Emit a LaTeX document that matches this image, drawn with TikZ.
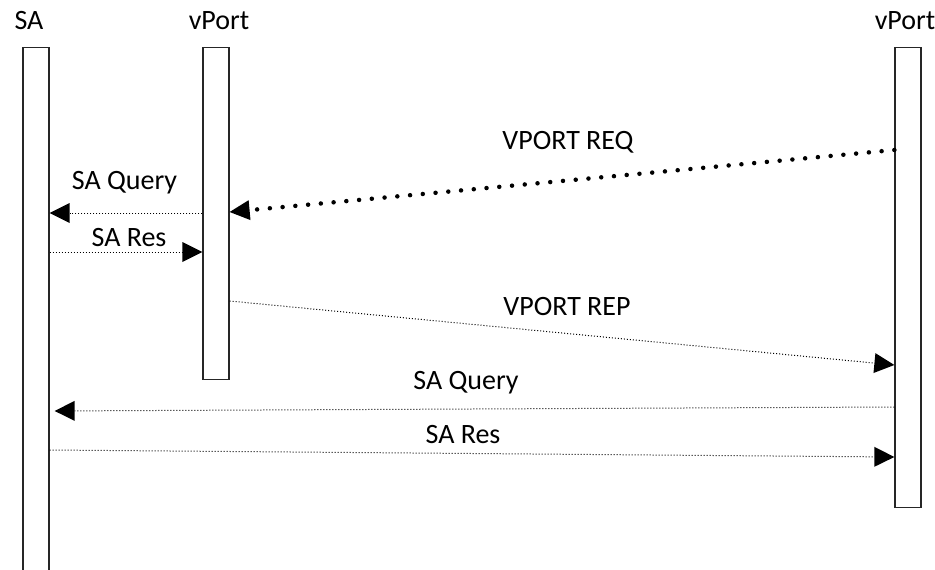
\documentclass[tikz,border=0pt]{standalone}
\usepackage{fontspec}
\setmainfont{Carlito}
\usetikzlibrary{arrows.meta}
\begin{document}
\begin{tikzpicture}[x=1pt,y=-1pt,
  lifebox/.style={draw=black!85, line width=1.3pt, fill=white, minimum width=26pt, anchor=north, inner sep=0pt},
  lbl/.style={font=\fontsize{28}{30}\selectfont, anchor=base, inner sep=0pt},
  tip/.style={-{Triangle[length=20pt,width=20pt,line width=0pt,fill=black,color=black]}},
  thin/.style={tip, line width=1pt, dash pattern=on 1pt off 2pt, draw=black},
  bigdots/.style={tip, line width=4.5pt, line cap=round, dash pattern=on 0pt off 12.8pt}]
\useasboundingbox (0,0) rectangle (935,570);
\clip (0,0) rectangle (935,570);
% lifelines
\node[lifebox, minimum height=540pt] (sa) at (36,47) {};
\node[lifebox, minimum height=332pt] (vp1) at (216,47) {};
\node[lifebox, minimum height=460pt] (vp2) at (908,47) {};
% headers
\node[lbl] (hsa) at (29,29.3) {SA};
\node[lbl] (hvp1) at (219,29.3) {vPort};
\node[lbl] (hvp2) at (905,29.3) {vPort};
% anchor points
\coordinate (reqS) at (vp2.west |- 0,150);
\coordinate (reqE) at (vp1.east |- 0,212);
\coordinate (q1S) at (vp1.west |- 0,213);
\coordinate (q1E) at (sa.east |- 0,213);
\coordinate (r1S) at (sa.east |- 0,252);
\coordinate (r1E) at (vp1.west |- 0,252);
\coordinate (repS) at (vp1.east |- 0,301);
\coordinate (repE) at (vp2.west |- 0,365);
\coordinate (q2S) at (vp2.west |- 0,407);
\coordinate (q2E) at (sa.east |- 0,411);
\coordinate (r2S) at (sa.east |- 0,450);
\coordinate (r2E) at (vp2.west |- 0,457);
% messages
\draw[bigdots] (reqS) -- (reqE);
\draw[thin] (q1S) -- (q1E);
\draw[thin] (r1S) -- (r1E);
\draw[thin] (repS) -- (repE);
\draw[thin, shorten >=5pt] (q2S) -- (q2E);
\draw[thin] (r2S) -- (r2E);
% labels
\node[lbl] (lreq) at (568,149) {VPORT REQ};
\node[lbl] (lq1) at (124.5,189) {SA Query};
\node[lbl] (lr1) at (129,246) {SA Res};
\node[lbl] (lrep) at (567,315) {VPORT REP};
\node[lbl] (lq2) at (466,389) {SA Query};
\node[lbl] (lr2) at (463,443) {SA Res};
\end{tikzpicture}
\end{document}
